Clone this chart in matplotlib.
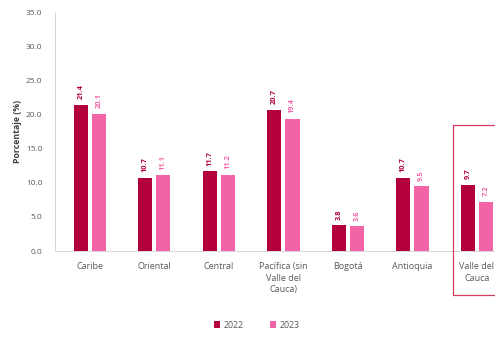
import matplotlib
matplotlib.use("Agg")
import matplotlib.pyplot as plt
from matplotlib.patches import Rectangle
import numpy as np

plt.rcParams['font.family'] = ['Open Sans', 'DejaVu Sans']

categories = ["Caribe", "Oriental", "Central", "Pacífica (sin\nValle del\nCauca)", "Bogotá", "Antioquia", "Valle del\nCauca"]
v2022 = [21.4, 10.7, 11.7, 20.7, 3.8, 10.7, 9.7]
v2023 = [20.1, 11.1, 11.2, 19.4, 3.6, 9.5, 7.2]
yticks = [0, 5, 10, 15, 20, 25, 30, 35]

c22 = "#B3003C"
c23 = "#F264A6"
grey = "#595959"

fig = plt.figure(figsize=(4.95, 3.37), dpi=100)
ax = fig.add_axes([55/495, 86/337, 1 - 55/495, 239/337])

x = np.arange(len(categories))
w = 0.22
off = 0.14
b1 = ax.bar(x - off, v2022, w, color=c22, label="2022")
b2 = ax.bar(x + off, v2023, w, color=c23, label="2023")

for xi, v in zip(x, v2022):
    ax.text(xi - off, v + 0.8, f"{v:.1f}", rotation=90, ha="center", va="bottom",
            fontsize=5.3, color=c22, fontweight="bold")
for xi, v in zip(x, v2023):
    ax.text(xi + off, v + 0.8, f"{v:.1f}", rotation=90, ha="center", va="bottom",
            fontsize=5.3, color=c23, fontweight="bold")

ax.set_ylim(0, 35)
ax.set_xlim(-0.54, 6.28)
ax.set_yticks(yticks)
ax.set_yticklabels([f"{t:.1f}" for t in yticks], fontsize=6, color=grey)
ax.set_xticks(x)
ax.set_xticklabels(categories, fontsize=6.5, color=grey, linespacing=1.35)
ax.tick_params(axis="y", length=0, pad=9)
ax.tick_params(axis="x", length=0, pad=8)
for s in ["top", "right"]:
    ax.spines[s].set_visible(False)
ax.spines["left"].set_color("#d0d0d0")
ax.spines["bottom"].set_color("#d0d0d0")
ax.spines["left"].set_linewidth(0.6)
ax.spines["bottom"].set_linewidth(0.6)

ax.set_ylabel("Porcentaje (%)", fontsize=6.3, fontweight="bold", color="#404040", labelpad=3)

# highlight box
fig.patches.append(Rectangle((453/495, (337-295)/337), 60/495, 170/337,
                             transform=fig.transFigure, fill=False,
                             edgecolor="#D04060", linewidth=0.9))

fig.legend(handles=[b1, b2], labels=["2022", "2023"], loc="center",
           bbox_to_anchor=(257/495, 1 - 325/337), ncol=2, frameon=False,
           fontsize=6.3, handlelength=0.7, handleheight=0.7, columnspacing=3,
           handletextpad=0.4, labelcolor=grey)

fig.savefig("out.png", dpi=100)
